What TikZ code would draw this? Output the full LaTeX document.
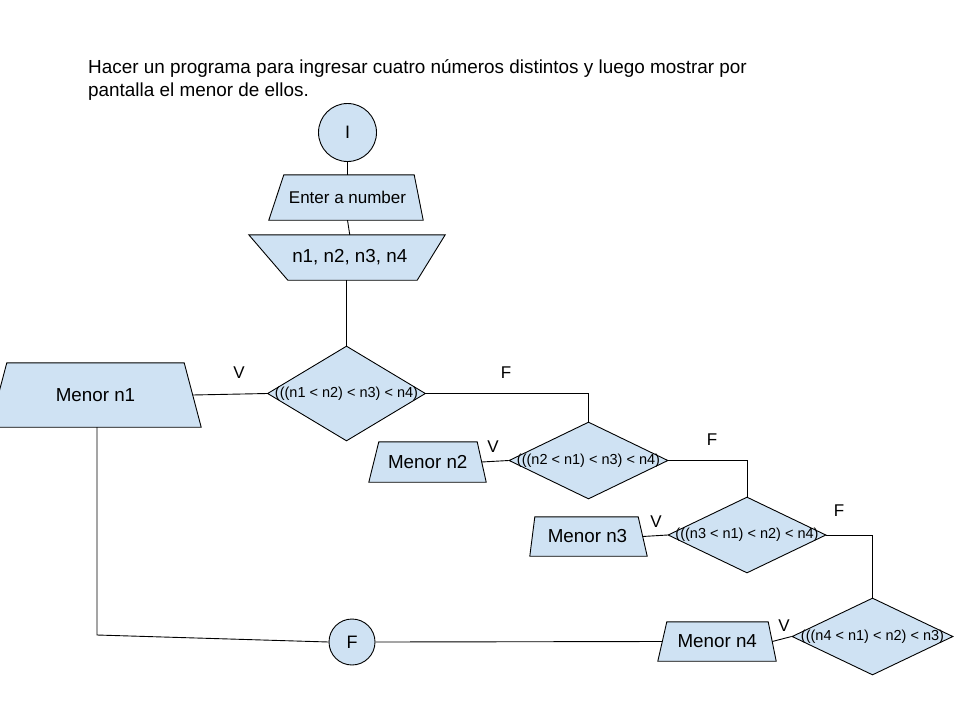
\documentclass[tikz,border=0pt]{standalone}
\usepackage{fontspec}
\setmainfont{Liberation Sans}
\usetikzlibrary{shapes.geometric,backgrounds}
\definecolor{boxblue}{RGB}{207,226,243}
\newcommand{\dtxt}{\fontsize{14.5}{16}\selectfont}
% outline of a trapezium around a rectangular node: #1 name, #2 left offset, #3 right offset
% (positive = wider at the bottom, negative = wider at the top)
\newcommand{\trapoutline}[3]{%
  \begin{scope}[on background layer]
    \filldraw[shp] ([xshift=#2/2]#1.north west) -- ([xshift=-#3/2]#1.north east)
      -- ([xshift=#3/2]#1.south east) -- ([xshift=-#2/2]#1.south west) -- cycle;
  \end{scope}}
\begin{document}
\begin{tikzpicture}[x=1pt,y=-1pt,
  shp/.style={draw=black, fill=boxblue, line width=0.9pt, inner sep=0pt},
  tbox/.style={rectangle, inner sep=0pt},
  dia/.style={shp, diamond},
  term/.style={shp, circle, font=\fontsize{18}{20}\selectfont},
  big/.style={font=\fontsize{18.8}{20}\selectfont},
  lbl/.style={font=\fontsize{17}{20}\selectfont, inner sep=0pt},
  conn/.style={line width=0.9pt}
]
\useasboundingbox (0,0) rectangle (960,720);

\node[anchor=base west, align=left, inner sep=0pt, font=\fontsize{18.9}{22.5}\selectfont] (title) at (88,96)
  {Hacer un programa para ingresar cuatro números distintos y luego mostrar por\\pantalla el menor de ellos.};

\node[term, minimum size=58pt] (ini) at (347.5,132.5) {I};

\node[tbox, minimum width=142pt, minimum height=45pt, font=\fontsize{17}{20}\selectfont] (enter) at (347.5,197.5) {Enter a number};
\trapoutline{enter}{15pt}{9pt}
\node[tbox, minimum width=162.5pt, minimum height=45pt, big] (nums) at (349.75,257.5) {n1, n2, n3, n4};
\trapoutline{nums}{-39pt}{-28pt}

\node[dia, minimum width=158pt, minimum height=95pt, label={[font=\dtxt]center:(((n1 < n2) < n3) < n4)}] (d1) at (346.5,393.5) {};
\node[dia, minimum width=159pt, minimum height=77pt, label={[font=\dtxt]center:(((n2 < n1) < n3) < n4)}] (d2) at (588.5,460.5) {};
\node[dia, minimum width=158pt, minimum height=76pt, label={[font=\dtxt]center:(((n3 < n1) < n2) < n4)}] (d3) at (747,535) {};
\node[dia, minimum width=161pt, minimum height=77pt, label={[font=\dtxt]center:(((n4 < n1) < n2) < n3)}] (d4) at (872.5,636.5) {};

\node[tbox, minimum width=194pt, minimum height=64pt, big] (m1) at (95.5,395) {Menor n1};
\trapoutline{m1}{17pt}{17pt}
\node[tbox, minimum width=107.5pt, minimum height=40pt, big] (m2) at (427.75,462) {Menor n2};
\trapoutline{m2}{10pt}{9pt}
\node[tbox, minimum width=110pt, minimum height=39pt, big] (m3) at (587.5,536.5) {Menor n3};
\trapoutline{m3}{5pt}{9pt}
\node[tbox, minimum width=109.5pt, minimum height=39pt, big] (m4) at (717.25,641.5) {Menor n4};
\trapoutline{m4}{9pt}{8pt}

\node[term, minimum size=46pt] (fin) at (352,642) {F};

\node[lbl] (v1) at (239,373) {V};
\node[lbl] (f1) at (506,373) {F};
\node[lbl] (v2) at (493,447) {V};
\node[lbl] (f2) at (712,440) {F};
\node[lbl] (v3) at (656,522) {V};
\node[lbl] (f3) at (839,511) {F};
\node[lbl] (v4) at (784,626) {V};

\coordinate (c1) at (97,635);

\draw[conn] (ini.south) -- (enter.north);
\draw[conn] (enter.south) -- (nums.north);
\draw[conn] (d1.north |- nums.south) -- (d1.north);
\draw[conn] (d1.west) -- (m1.east);
\draw[conn] (d1.east) -| (d2.north);
\draw[conn] (d2.west) -- (m2.east);
\draw[conn] (d2.east) -| (d3.north);
\draw[conn] (d3.west) -- (m3.east);
\draw[conn] (d3.east) -| (d4.north);
\draw[conn] (d4.west) -- (m4.east);
\draw[conn] (m4.west) -- (fin.east);
\draw[conn] (m1.south -| c1) -- (c1) -- (fin.west);
\end{tikzpicture}
\end{document}
